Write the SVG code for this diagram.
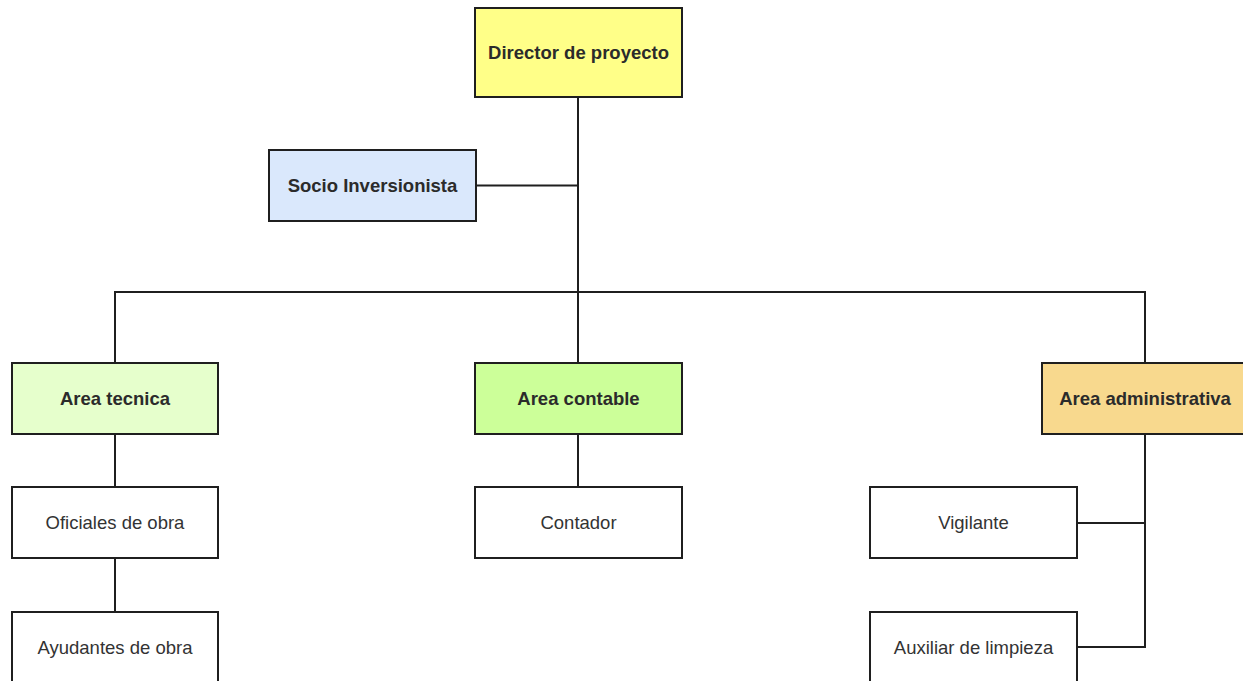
<svg xmlns="http://www.w3.org/2000/svg" width="1243" height="681" viewBox="0 0 1243 681">
<style>
  .box{stroke:#1f1f1f;stroke-width:2}
  .lbl{font-family:"Liberation Sans",Arial,sans-serif;font-size:18.5px;fill:#333333;text-anchor:middle}
  .b{font-weight:bold;fill:#2b2b2b}
  .conn{fill:none;stroke:#1f1f1f;stroke-width:2}
</style>
<rect width="1243" height="681" fill="#ffffff"/>
<g id="connectors">
  <path class="conn" d="M578 97 V363"/>
  <path class="conn" d="M476 185.5 H578"/>
  <path class="conn" d="M115 363 V292 H1145 V363"/>
  <path class="conn" d="M115 434 V487"/>
  <path class="conn" d="M115 558 V612"/>
  <path class="conn" d="M578 434 V487"/>
  <path class="conn" d="M1145 434 V647 H1077"/>
  <path class="conn" d="M1077 523 H1145"/>
</g>
<g id="director">
  <rect class="box" x="475" y="8" width="207" height="89" fill="#ffff88"/>
  <text class="lbl b" x="578.5" y="59">Director de proyecto</text>
</g>
<g id="socio">
  <rect class="box" x="269" y="150" width="207" height="71" fill="#dae8fc"/>
  <text class="lbl b" x="372.5" y="192">Socio Inversionista</text>
</g>
<g id="area-tecnica">
  <rect class="box" x="12" y="363" width="206" height="71" fill="#e6ffcc"/>
  <text class="lbl b" x="115" y="405">Area tecnica</text>
</g>
<g id="area-contable">
  <rect class="box" x="475" y="363" width="207" height="71" fill="#ccff99"/>
  <text class="lbl b" x="578.5" y="405">Area contable</text>
</g>
<g id="area-administrativa">
  <rect class="box" x="1042" y="363" width="207" height="71" fill="#f8d98e"/>
  <text class="lbl b" x="1145" y="405">Area administrativa</text>
</g>
<g id="oficiales">
  <rect class="box" x="12" y="487" width="206" height="71" fill="#ffffff"/>
  <text class="lbl" x="115" y="529">Oficiales de obra</text>
</g>
<g id="ayudantes">
  <rect class="box" x="12" y="612" width="206" height="71" fill="#ffffff"/>
  <text class="lbl" x="115" y="654">Ayudantes de obra</text>
</g>
<g id="contador">
  <rect class="box" x="475" y="487" width="207" height="71" fill="#ffffff"/>
  <text class="lbl" x="578.5" y="529">Contador</text>
</g>
<g id="vigilante">
  <rect class="box" x="870" y="487" width="207" height="71" fill="#ffffff"/>
  <text class="lbl" x="973.5" y="529">Vigilante</text>
</g>
<g id="auxiliar">
  <rect class="box" x="870" y="612" width="207" height="71" fill="#ffffff"/>
  <text class="lbl" x="973.5" y="654">Auxiliar de limpieza</text>
</g>
</svg>
